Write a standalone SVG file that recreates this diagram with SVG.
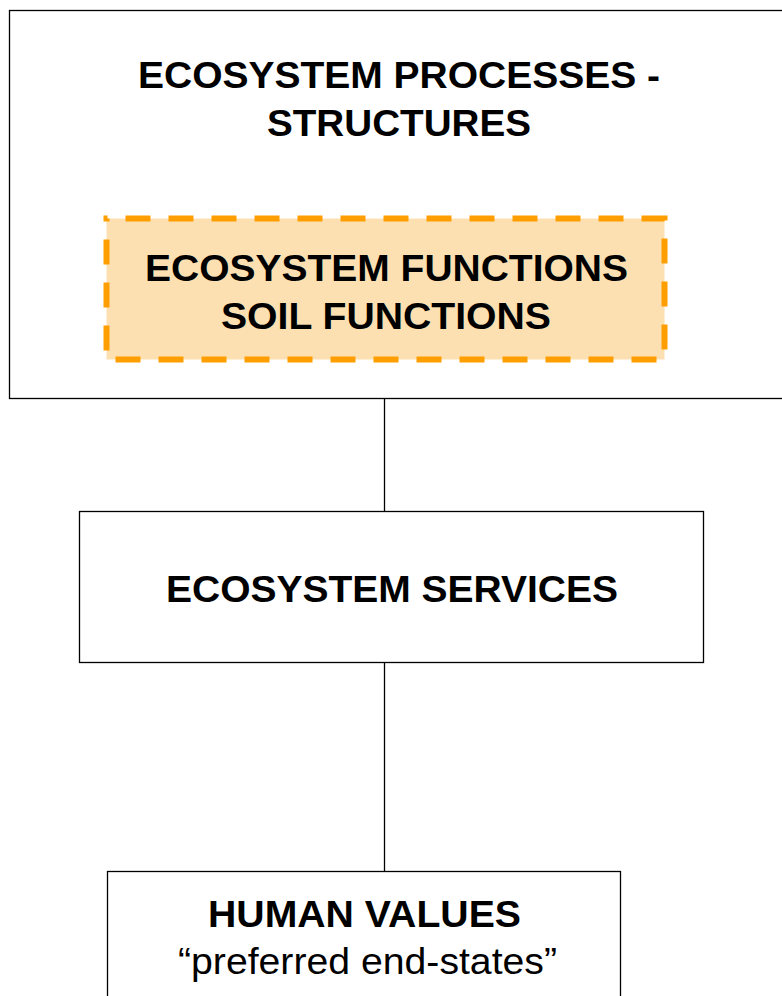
<svg xmlns="http://www.w3.org/2000/svg" width="782" height="996" viewBox="0 0 782 996">
<style>
.box{fill:#fff;stroke:#000;stroke-width:1.3}
.t{font-family:"Liberation Sans",Arial,sans-serif;font-size:36px;fill:#000;text-anchor:middle}
.b{font-weight:bold}
.c{stroke:#000;stroke-width:1.3;fill:none}
</style>
<g id="connectors">
<line class="c" x1="384.5" y1="362" x2="384.5" y2="511"/>
<line class="c" x1="384.5" y1="663" x2="384.5" y2="871"/>
<rect x="718" y="281" width="70" height="14" fill="#4a8a26"/>
</g>
<g id="processes">
<rect class="box" x="9.5" y="10.5" width="790" height="388"/>
<text class="t b" x="399" y="88" textLength="522" lengthAdjust="spacingAndGlyphs">ECOSYSTEM PROCESSES -</text>
<text class="t b" x="399" y="136" textLength="264" lengthAdjust="spacingAndGlyphs">STRUCTURES</text>
</g>
<g id="functions">
<rect x="106.5" y="218.5" width="558" height="141" fill="#fde0b2" stroke="#ff9e00" stroke-width="6" stroke-dasharray="25,18" stroke-dashoffset="-19"/>
<text class="t b" x="386.5" y="281" textLength="483" lengthAdjust="spacingAndGlyphs">ECOSYSTEM FUNCTIONS</text>
<text class="t b" x="386" y="329" textLength="330" lengthAdjust="spacingAndGlyphs">SOIL FUNCTIONS</text>
</g>
<g id="services">
<rect class="box" x="79.5" y="511.5" width="624" height="151"/>
<text class="t b" x="392" y="602" textLength="452" lengthAdjust="spacingAndGlyphs">ECOSYSTEM SERVICES</text>
</g>
<g id="values">
<rect class="box" x="107.5" y="871.5" width="513" height="140"/>
<text class="t b" x="364.5" y="927" textLength="313" lengthAdjust="spacingAndGlyphs">HUMAN VALUES</text>
<text class="t" x="367.5" y="974" textLength="379" lengthAdjust="spacingAndGlyphs">“preferred end-states”</text>
</g>
</svg>
